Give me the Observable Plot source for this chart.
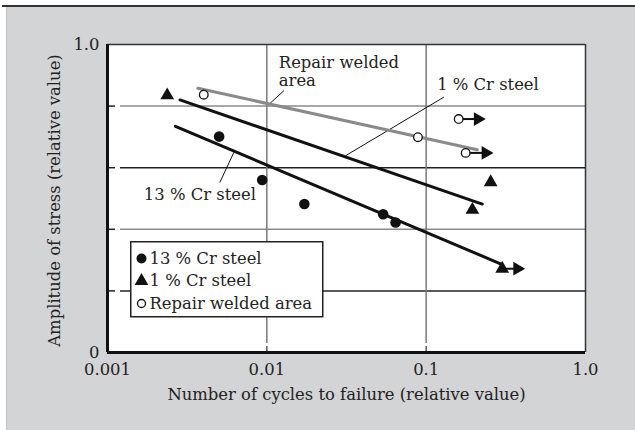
<!DOCTYPE html>
<html>
<head>
<meta charset="utf-8">
<script src="https://cdn.jsdelivr.net/npm/d3@7"></script>
<script src="https://cdn.jsdelivr.net/npm/@observablehq/plot@0.6"></script>
<style>
  body { margin: 0; background: white; }
  #wrap { position: relative; width: 635px; height: 430px; overflow: hidden; background: white; }
  #bg { position: absolute; left: 6px; top: 7px; right: 0; bottom: 0; background: #d3d4d6; border-left: 1px solid #c2c3c5; }
  #topline { position: absolute; left: 2px; top: 5px; right: 0; height: 2px; background: #333; }
  #chart { position: absolute; left: 0; top: 0; }
  #legend { position: absolute; left: 130px; top: 241px; }
</style>
</head>
<body>
<div id="wrap">
  <div id="bg"></div>
  <div id="topline"></div>
  <div id="chart"></div>
  <div id="legend"></div>
</div>
<script>
// ---- Axis ticks ----
const xTicks = [0.001, 0.01, 0.1, 1];
const xTickLabels = ["0.001", "0.01", "0.1", "1.0"];
const yTicks = [0, 1];
const yTickLabels = ["0", "1.0"];
const xGrid = [0.01, 0.1];
const yGridDark = [0.2, 0.6];
const yGridGrey = [0.4, 0.8];

const xTitle = "Number of cycles to failure (relative value)";
const yTitle = "Amplitude of stress (relative value)";

// ---- Series: measured points ----
const cr13X = [0.00502, 0.00935, 0.0172, 0.0537, 0.0643];
const cr13Y = [0.701, 0.560, 0.482, 0.449, 0.422];
const cr1X = [0.00237, 0.195, 0.254, 0.300];
const cr1Y = [0.835, 0.463, 0.553, 0.272];
const repX = [0.00402, 0.0888, 0.160, 0.177];
const repY = [0.837, 0.699, 0.758, 0.648];

// ---- Run-out arrows (no failure) ----
const runFromX = [0.160, 0.177, 0.300];
const runToX = [0.211, 0.236, 0.373];
const runY = [0.758, 0.648, 0.272];

// ---- Fitted lines ----
const fitRepX = [0.00369, 0.209];
const fitRepY = [0.858, 0.658];
const fit1X = [0.00285, 0.225];
const fit1Y = [0.820, 0.482];
const fit13X = [0.00267, 0.293];
const fit13Y = [0.734, 0.288];

// ---- Annotations ----
const annLabels = ["Repair welded\narea", "1 % Cr steel", "13 % Cr steel"];
const annX = [0.01189, 0.1172, 0.00169];
const annY = [0.964, 0.893, 0.537];
const leadX1 = [0.01028, 0.0312, 0.00621];
const leadY1 = [0.805, 0.639, 0.650];
const leadX2 = [0.01280, 0.1291, 0.00507];
const leadY2 = [0.850, 0.829, 0.552];

// ---- Legend ----
const legendLabels = ["13 % Cr steel", "1 % Cr steel", "Repair welded area"];

const zip = (xs, ys) => xs.map((x, i) => ({x, y: ys[i]}));
const cr13 = zip(cr13X, cr13Y);
const cr1 = zip(cr1X, cr1Y);
const rep = zip(repX, repY);
const runs = runFromX.map((x, i) => ({x1: x, x2: runToX[i], y: runY[i]}));
const anns = annLabels.map((t, i) => ({t, x: annX[i], y: annY[i]}));
const leads = leadX1.map((x, i) => ({x1: x, y1: leadY1[i], x2: leadX2[i], y2: leadY2[i]}));

const W = 635, H = 430, mL = 107, mR = 50, mT = 44, mB = 78;
const FW = W - mL - mR, FH = H - mT - mB;
const FONT = "DejaVu Serif";

const chart = Plot.plot({
  width: W, height: H,
  marginLeft: mL, marginRight: mR, marginTop: mT, marginBottom: mB,
  style: {background: "transparent", fontFamily: FONT, fontSize: "16.4px", color: "#222"},
  x: {type: "log", domain: [0.001, 1]},
  y: {domain: [0, 1]},
  marks: [
    Plot.frame({fill: "white", stroke: null}),
    // grid lines
    Plot.ruleY(yGridDark, {stroke: "#222", strokeWidth: 1.5, insetLeft: 13}),
    Plot.ruleY(yGridGrey, {stroke: "#8a8a8a", strokeWidth: 1.5, insetLeft: 13}),
    Plot.ruleY(yGridDark.concat(yGridGrey), {stroke: "#222", strokeWidth: 1.5, insetRight: FW - 8}),
    Plot.ruleX(xGrid, {stroke: "#7a7a7a", strokeWidth: 1.5, insetBottom: 9}),
    Plot.ruleX(xGrid, {stroke: "#555", strokeWidth: 1.5, insetTop: FH - 6}),
    // frame
    Plot.ruleY([1], {stroke: "#333", strokeWidth: 1.5}),
    Plot.ruleX([1], {stroke: "#333", strokeWidth: 1.5}),
    Plot.ruleX([0.001], {stroke: "#111", strokeWidth: 3}),
    Plot.ruleY([0], {stroke: "#111", strokeWidth: 3}),
    // axes
    Plot.axisX(xTicks, {tickFormat: d => xTickLabels[xTicks.indexOf(d)], tickSize: 0, tickPadding: 11, label: null, fill: "#222"}),
    Plot.axisY(yTicks, {tickFormat: d => yTickLabels[yTicks.indexOf(d)], tickSize: 0, tickPadding: 8, label: null, fill: "#222"}),
    Plot.text([xTitle], {frameAnchor: "bottom", dy: 47, textAnchor: "middle", fill: "#222"}),
    Plot.text([yTitle], {frameAnchor: "left", rotate: -90, dx: -53, dy: 2, textAnchor: "middle", fill: "#222"}),
    // leader lines
    Plot.link(leads, {x1: "x1", y1: "y1", x2: "x2", y2: "y2", stroke: "#111", strokeWidth: 1}),
    // fitted lines
    Plot.line(zip(fitRepX, fitRepY), {x: "x", y: "y", stroke: "#8a8a8a", strokeWidth: 3}),
    Plot.line(zip(fit1X, fit1Y), {x: "x", y: "y", stroke: "#111", strokeWidth: 3}),
    Plot.line(zip(fit13X, fit13Y), {x: "x", y: "y", stroke: "#111", strokeWidth: 3}),
    // run-out arrows
    Plot.link(runs, {x1: "x1", x2: "x2", y1: "y", y2: "y", stroke: "#111", strokeWidth: 2}),
    Plot.dot(runs, {x: "x2", y: "y", symbol: "triangle", rotate: 90, r: 5.1, fill: "#111", stroke: null}),
    // points
    Plot.dot(cr13, {x: "x", y: "y", r: 5.3, fill: "#111", stroke: null}),
    Plot.dot(cr1, {x: "x", y: "y", symbol: "triangle", r: 5.1, fill: "#111", stroke: null}),
    Plot.dot(rep, {x: "x", y: "y", r: 4.3, fill: "white", stroke: "#111", strokeWidth: 1.3}),
    // annotations
    Plot.text(anns, {x: "x", y: "y", text: "t", textAnchor: "start", lineAnchor: "top", lineHeight: 1.1, fill: "#222"})
  ]
});
document.getElementById("chart").appendChild(chart);

// ---- Legend ----
const lg = d3.select("#legend").append("svg").attr("width", 194).attr("height", 77)
  .style("font-family", FONT).style("font-size", "16.4px");
lg.append("rect").attr("x", 0.75).attr("y", 0.75).attr("width", 192).attr("height", 75)
  .attr("fill", "white").attr("stroke", "#222").attr("stroke-width", 1.5);
const rows = [
  {sym: d3.symbolCircle, size: Math.PI * 5 * 5, fill: "#111", stroke: "none", cy: 17.5, by: 22.5},
  {sym: d3.symbolTriangle, size: Math.PI * 5.1 * 5.1, fill: "#111", stroke: "none", cy: 40, by: 44.5},
  {sym: d3.symbolCircle, size: Math.PI * 4 * 4, fill: "white", stroke: "#111", cy: 62.5, by: 67.5}
];
rows.forEach((r, i) => {
  lg.append("path").attr("d", d3.symbol(r.sym, r.size)()).attr("transform", `translate(11.5,${r.cy})`)
    .attr("fill", r.fill).attr("stroke", r.stroke).attr("stroke-width", 1.3);
  lg.append("text").attr("x", 19.5).attr("y", r.by).attr("fill", "#222").text(legendLabels[i]);
});
</script>
</body>
</html>
